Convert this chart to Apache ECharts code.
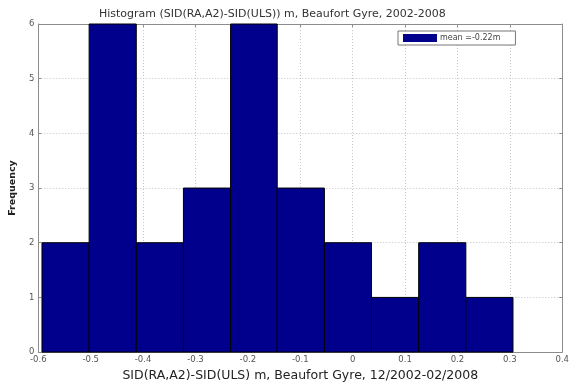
<!DOCTYPE html>
<html>
<head>
<meta charset="utf-8">
<script src="https://cdn.jsdelivr.net/npm/echarts@6/dist/echarts.min.js"></script>
<style>
  html, body { margin: 0; padding: 0; background: #fff; }
  #chart { width: 572px; height: 387px; }
</style>
</head>
<body>
<div id="chart"></div>
<script>
// Histogram bin edges (m) and counts per bin
const binEdges = [-0.593, -0.503, -0.413, -0.323, -0.233, -0.144, -0.054, 0.036, 0.126, 0.216, 0.306];
const counts = [2, 6, 2, 3, 6, 3, 2, 1, 2, 1];
const xTicks = [-0.6, -0.5, -0.4, -0.3, -0.2, -0.1, 0, 0.1, 0.2, 0.3, 0.4];
const yTicks = [0, 1, 2, 3, 4, 5, 6];
const legendLabel = 'mean =-0.22m';

const bins = counts.map((c, i) => [binEdges[i], binEdges[i + 1], c]);

const axisGray = '#8c8c8c';
const labelGray = '#555';
const font = 'DejaVu Sans, Verdana, sans-serif';

const chart = echarts.init(document.getElementById('chart'), null, { renderer: 'canvas' });

chart.setOption({
  animation: false,
  backgroundColor: '#fff',
  title: {
    text: 'Histogram (SID(RA,A2)-SID(ULS)) m, Beaufort Gyre, 2002-2008',
    left: 94,
    top: 4,
    textStyle: { fontFamily: font, fontSize: 11, fontWeight: 'normal', color: '#333' }
  },
  legend: {
    left: 398,
    top: 31,
    padding: [3, 15, 3, 5],
    borderColor: '#777',
    borderWidth: 1,
    borderRadius: 0,
    backgroundColor: '#fff',
    itemWidth: 34,
    itemHeight: 8,
    icon: 'rect',
    data: [legendLabel],
    textStyle: { fontFamily: font, fontSize: 8, color: '#444', padding: [0, 0, 0, -2] }
  },
  grid: { left: 33, right: 5, top: 24, bottom: 30, containLabel: false },
  xAxis: [
    {
      type: 'value',
      min: -0.6,
      max: 0.4,
      interval: 0.1,
      name: 'SID(RA,A2)-SID(ULS) m, Beaufort Gyre, 12/2002-02/2008',
      nameLocation: 'middle',
      nameGap: 15,
      nameTextStyle: { fontFamily: font, fontSize: 12.5, color: '#222' },
      axisLine: { onZero: false, lineStyle: { color: axisGray, width: 1 } },
      axisTick: { inside: true, length: 3, lineStyle: { color: axisGray } },
      axisLabel: {
        margin: 3,
        fontFamily: font,
        fontSize: 8.5,
        color: labelGray,
        formatter: v => {
          const r = Math.round(v * 10) / 10;
          return xTicks.includes(r) ? String(r) : '';
        }
      },
      splitLine: { show: true, lineStyle: { color: '#c4c4c4', type: [1, 2], width: 1 } }
    },
    {
      type: 'value',
      position: 'top',
      min: -0.6,
      max: 0.4,
      interval: 0.1,
      axisLine: { onZero: false, lineStyle: { color: axisGray, width: 1 } },
      axisTick: { inside: true, length: 3, lineStyle: { color: axisGray } },
      axisLabel: { show: false },
      splitLine: { show: false }
    }
  ],
  yAxis: [
    {
      type: 'value',
      min: 0,
      max: 6,
      interval: 1,
      name: 'Frequency',
      nameLocation: 'middle',
      nameGap: 18,
      nameTextStyle: { fontFamily: font, fontSize: 9.5, fontWeight: 'bold', color: '#222' },
      axisLine: { show: true, onZero: false, lineStyle: { color: axisGray, width: 1 } },
      axisTick: { show: true, inside: true, length: 3, lineStyle: { color: axisGray } },
      axisLabel: {
        margin: 4,
        fontFamily: font,
        fontSize: 8.5,
        color: labelGray,
        formatter: v => (yTicks.includes(v) ? String(v) : '')
      },
      splitLine: { show: true, lineStyle: { color: '#c4c4c4', type: [1, 2], width: 1 } }
    },
    {
      type: 'value',
      position: 'right',
      min: 0,
      max: 6,
      interval: 1,
      axisLine: { show: true, onZero: false, lineStyle: { color: axisGray, width: 1 } },
      axisTick: { show: true, inside: true, length: 3, lineStyle: { color: axisGray } },
      axisLabel: { show: false },
      splitLine: { show: false }
    }
  ],
  series: [
    {
      name: legendLabel,
      type: 'custom',
      xAxisIndex: 0,
      yAxisIndex: 0,
      itemStyle: { color: '#00008c' },
      encode: { x: [0, 1], y: 2 },
      data: bins,
      renderItem: function (params, api) {
        const p0 = api.coord([api.value(0), api.value(2)]);
        const p1 = api.coord([api.value(1), 0]);
        return {
          type: 'rect',
          shape: { x: p0[0], y: p0[1], width: p1[0] - p0[0], height: p1[1] - p0[1] },
          style: { fill: '#00008c', stroke: '#000', lineWidth: 1 }
        };
      }
    }
  ]
});
</script>
</body>
</html>
